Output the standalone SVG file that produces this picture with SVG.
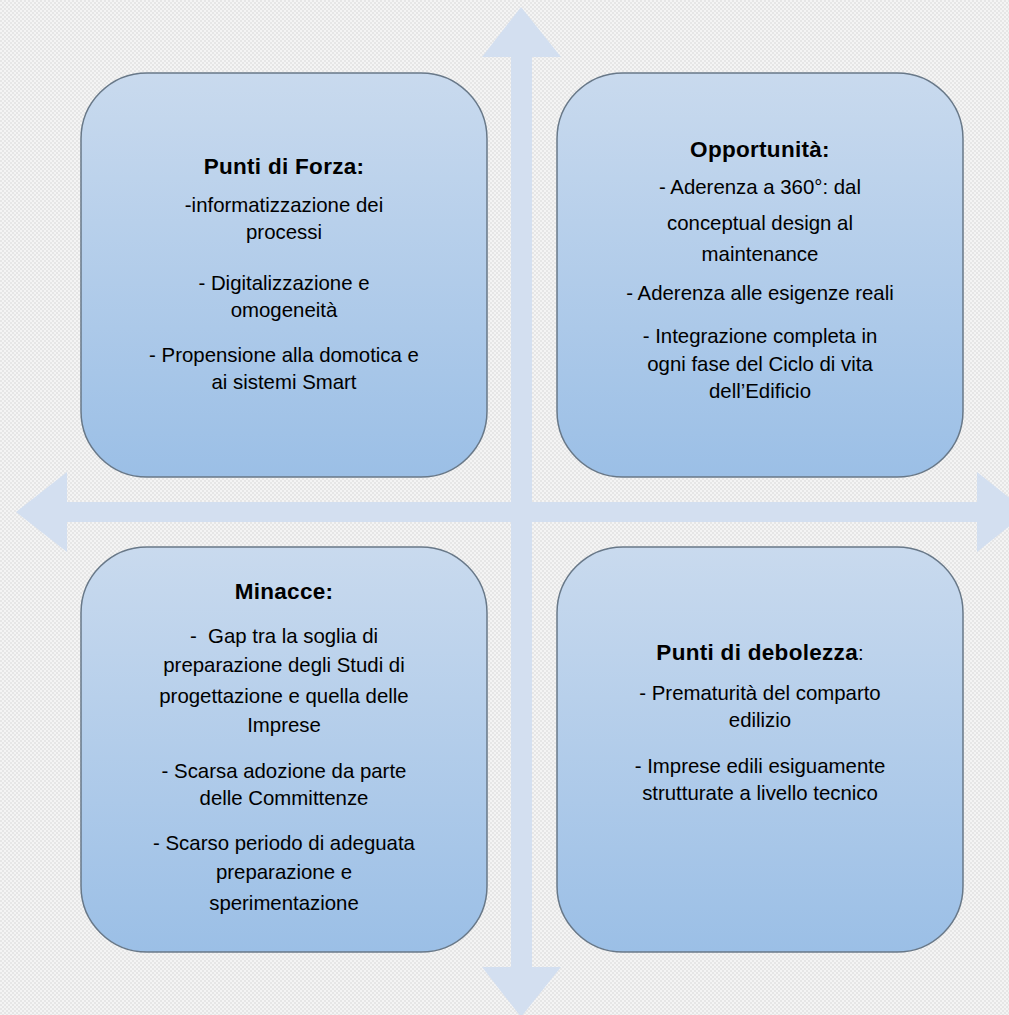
<svg xmlns="http://www.w3.org/2000/svg" width="1009" height="1015" viewBox="0 0 1009 1015">
<defs>
<pattern id="checker" width="4" height="4" patternUnits="userSpaceOnUse">
<rect width="4" height="4" fill="#f4f4f4"/>
<rect width="2" height="2" fill="#e6e6e6"/>
<rect x="2" y="2" width="2" height="2" fill="#e6e6e6"/>
</pattern>
<linearGradient id="boxGrad" x1="0" y1="0" x2="0" y2="1">
<stop offset="0" stop-color="#c9daee"/>
<stop offset="1" stop-color="#9bbfe6"/>
</linearGradient>
<style>
.box{fill:url(#boxGrad);stroke:#687888;stroke-width:1.5}
.arrow{fill:#d3dff0}
text{font-family:"Liberation Sans",Arial,sans-serif;font-size:20.4px;fill:#000;text-anchor:middle}
.title{font-weight:bold;font-size:22.5px;letter-spacing:0.3px}
</style>
</defs>
<rect width="1009" height="1015" fill="url(#checker)"/>
<g id="connectors">
<path class="arrow" d="M521,7 L561,57 L532,57 L532,967 L561,967 L521,1017 L482,967 L511,967 L511,57 L482,57 Z"/>
<path class="arrow" d="M16,512 L67,472 L67,502 L977,502 L977,472 L1027,512 L977,552 L977,522 L67,522 L67,552 Z"/>
</g>
<g id="forza">
<rect class="box" x="81" y="73" width="406" height="404" rx="66" ry="66"/>
<text class="title" x="284" y="174">Punti di Forza:</text>
<text x="284" y="212">-informatizzazione dei</text>
<text x="284" y="239">processi</text>
<text x="284" y="290">- Digitalizzazione e</text>
<text x="284" y="317">omogeneità</text>
<text x="284" y="362">- Propensione alla domotica e</text>
<text x="284" y="389">ai sistemi Smart</text>
</g>
<g id="opportunita">
<rect class="box" x="557" y="73" width="406" height="404" rx="66" ry="66"/>
<text class="title" x="760" y="157">Opportunità:</text>
<text x="760" y="194">- Aderenza a 360°: dal</text>
<text x="760" y="230">conceptual design al</text>
<text x="760" y="261">maintenance</text>
<text x="760" y="300">- Aderenza alle esigenze reali</text>
<text x="760" y="343">- Integrazione completa in</text>
<text x="760" y="371">ogni fase del Ciclo di vita</text>
<text x="760" y="398">dell’Edificio</text>
</g>
<g id="minacce">
<rect class="box" x="81" y="547" width="406" height="405" rx="66" ry="66"/>
<text class="title" x="284" y="599">Minacce:</text>
<text x="284" y="643" xml:space="preserve">-  Gap tra la soglia di</text>
<text x="284" y="672">preparazione degli Studi di</text>
<text x="284" y="703">progettazione e quella delle</text>
<text x="284" y="732">Imprese</text>
<text x="284" y="778">- Scarsa adozione da parte</text>
<text x="284" y="805">delle Committenze</text>
<text x="284" y="850">- Scarso periodo di adeguata</text>
<text x="284" y="879">preparazione e</text>
<text x="284" y="910">sperimentazione</text>
</g>
<g id="debolezza">
<rect class="box" x="557" y="547" width="406" height="405" rx="66" ry="66"/>
<text x="760" y="660"><tspan class="title">Punti di debolezza</tspan>:</text>
<text x="760" y="700">- Prematurità del comparto</text>
<text x="760" y="727">edilizio</text>
<text x="760" y="773">- Imprese edili esiguamente</text>
<text x="760" y="800">strutturate a livello tecnico</text>
</g>
</svg>
